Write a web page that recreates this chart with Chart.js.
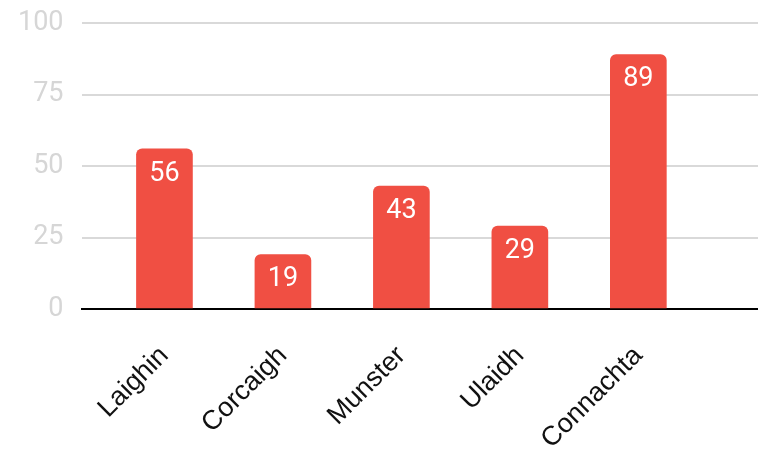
<!DOCTYPE html>
<html>
<head>
<meta charset="utf-8">
<script src="https://cdn.jsdelivr.net/npm/chart.js@4"></script>
<style>
  html, body { margin: 0; padding: 0; background: #fff; }
  #wrap { width: 758px; height: 449px; }
</style>
</head>
<body>
<div id="wrap"><canvas id="provinceChart"></canvas></div>
<script>
var provinces = ["Laighin", "Corcaigh", "Munster", "Ulaidh", "Connachta"];
var counts = [56, 19, 43, 29, 89];
var yTicks = [0, 25, 50, 75, 100];

// white value inside the top of each bar
var barValues = {
    id: 'barValues',
    afterDatasetsDraw: function (chart) {
        var ctx = chart.ctx;
        var meta = chart.getDatasetMeta(0);
        ctx.save();
        ctx.fillStyle = '#ffffff';
        ctx.font = '27px Roboto';
        ctx.textAlign = 'center';
        ctx.textBaseline = 'middle';
        meta.data.forEach(function (bar, i) {
            var p = bar.getProps(['x', 'y'], true);
            ctx.fillText(String(counts[i]), p.x, p.y + 25);
        });
        ctx.restore();
    }
};

var points = provinces.map(function (name, i) { return {x: i, y: counts[i]}; });

var provinceChart = new Chart(document.getElementById('provinceChart'), {
    type: 'bar',
    data: {
        datasets: [{
            data: points,
            backgroundColor: '#f04f43',
            borderWidth: 0,
            borderRadius: 6,
            borderSkipped: 'start',
            barThickness: 56
        }]
    },
    options: {
        responsive: true,
        maintainAspectRatio: false,
        animation: false,
        layout: { padding: { left: 0, right: 0, top: 23, bottom: 0 } },
        plugins: {
            legend: { display: false },
            tooltip: { enabled: false }
        },
        scales: {
            x: {
                type: 'linear',
                offset: false,
                min: -0.7,
                max: 5.01,
                afterBuildTicks: function (scale) {
                    scale.ticks = provinces.map(function (n, i) { return {value: i}; });
                },
                afterFit: function (scale) {
                    scale.height = 140;
                    scale.paddingLeft = 0;
                    scale.paddingRight = 0;
                },
                grid: { display: false, offset: false },
                border: { display: true, color: '#000000', width: 2 },
                ticks: {
                    autoSkip: false,
                    maxRotation: 45,
                    minRotation: 45,
                    padding: 23,
                    color: '#111111',
                    font: { family: 'Liberation Sans', size: 27 },
                    callback: function (value) { return provinces[value] || ''; }
                }
            },
            y: {
                min: 0,
                max: 100,
                afterBuildTicks: function (scale) {
                    scale.ticks = yTicks.map(function (v) { return {value: v}; });
                },
                afterFit: function (scale) {
                    scale.paddingTop = 0;
                    scale.paddingBottom = 0;
                },
                border: { display: false },
                grid: { color: '#d9d9d9', lineWidth: 2, drawTicks: false },
                ticks: {
                    padding: 18,
                    color: '#d6d6d6',
                    font: { family: 'Roboto', size: 27 }
                }
            }
        }
    },
    plugins: [barValues]
});
</script>
</body>
</html>
